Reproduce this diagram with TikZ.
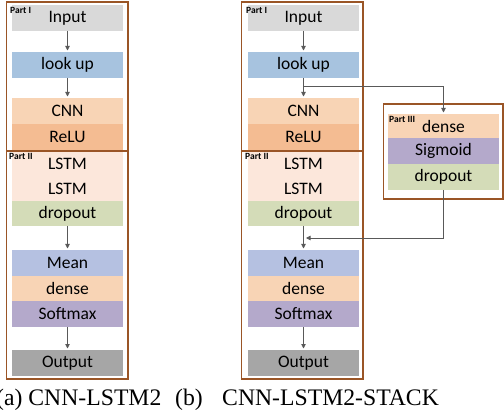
\documentclass[tikz,border=0pt]{standalone}
\usepackage{fontspec}
\setmainfont{Liberation Serif}
\newfontfamily\boxfont{Carlito}
\usetikzlibrary{arrows.meta,calc}

\definecolor{cInput}{HTML}{D9D9D9}
\definecolor{cLook}{HTML}{A7C3DF}
\definecolor{cCnn}{HTML}{F8D4B5}
\definecolor{cRelu}{HTML}{F4BC92}
\definecolor{cLstm}{HTML}{FCE7DB}
\definecolor{cDrop}{HTML}{D4DCB8}
\definecolor{cMean}{HTML}{B5C1E1}
\definecolor{cDense}{HTML}{F8D4B5}
\definecolor{cSoft}{HTML}{B4A9CB}
\definecolor{cOut}{HTML}{A6A6A6}
\definecolor{cFrame}{HTML}{9A5526}
\definecolor{cArrow}{HTML}{595959}

\tikzset{
  layer/.style={anchor=north west, inner sep=0pt, outer sep=0pt,
    minimum height=#1, minimum width=111pt,
    font=\boxfont\fontsize{17.5}{19}\selectfont},
  frame/.style={draw=cFrame, line width=1.8pt},
  partlabel/.style={anchor=base west, inner sep=0pt,
    font=\boxfont\bfseries\fontsize{9.5}{10}\selectfont},
  flow/.style={draw=cArrow, line width=0.8pt,
    -{Triangle[length=4.5pt,width=4.5pt]}, shorten >=1.5pt},
  caption/.style={anchor=base west, inner sep=0pt,
    font=\fontsize{23.7}{26}\selectfont}
}

\begin{document}
\begin{tikzpicture}[x=1pt,y=-1pt]
\useasboundingbox (0,0) rectangle (504,417);

% ---------- (a) CNN-LSTM2 ----------
\node[layer=26pt, fill=cInput] (aIn) at (12,5) {Input};
\node[layer=26pt, fill=cLook]  (aLook) at (12,52) {look up};
\node[layer=26pt, fill=cCnn]   (aCnn) at (12,98) {CNN};
\node[layer=26pt, fill=cRelu]  (aRelu) at (12,124) {ReLU};
\node[layer=25pt, fill=cLstm]  (aL1) at (12,151) {LSTM};
\node[layer=25pt, fill=cLstm]  (aL2) at (12,176) {LSTM};
\node[layer=25pt, fill=cDrop]  (aDrop) at (12,201) {dropout};
\node[layer=26pt, fill=cMean]  (aMean) at (12,250) {Mean};
\node[layer=25pt, fill=cDense] (aDense) at (12,276) {dense};
\node[layer=26pt, fill=cSoft]  (aSoft) at (12,301) {Softmax};
\node[layer=26pt, fill=cOut]   (aOut) at (12,350) {Output};

\draw[frame] (6.5,2) rectangle (128,151);
\draw[frame] (6.5,151) rectangle (128,379);
\node[partlabel] (aP1) at (10,13.5) {Part I};
\node[partlabel] (aP2) at (9,160) {Part II};

\draw[flow] (aIn) -- (aLook);
\draw[flow] (aLook) -- (aCnn);
\draw[flow] (aDrop) -- (aMean);
\draw[flow] (aSoft) -- (aOut);

% ---------- (b) CNN-LSTM2-STACK ----------
\node[layer=26pt, fill=cInput] (bIn) at (248,5) {Input};
\node[layer=26pt, fill=cLook]  (bLook) at (248,52) {look up};
\node[layer=26pt, fill=cCnn]   (bCnn) at (248,98) {CNN};
\node[layer=26pt, fill=cRelu]  (bRelu) at (248,124) {ReLU};
\node[layer=25pt, fill=cLstm]  (bL1) at (248,151) {LSTM};
\node[layer=25pt, fill=cLstm]  (bL2) at (248,176) {LSTM};
\node[layer=25pt, fill=cDrop]  (bDrop) at (248,201) {dropout};
\node[layer=26pt, fill=cMean]  (bMean) at (248,250) {Mean};
\node[layer=25pt, fill=cDense] (bDense) at (248,276) {dense};
\node[layer=26pt, fill=cSoft]  (bSoft) at (248,301) {Softmax};
\node[layer=26pt, fill=cOut]   (bOut) at (248,350) {Output};

\draw[frame] (241.5,2) rectangle (363,151);
\draw[frame] (241.5,151) rectangle (363,379);
\node[partlabel] (bP1) at (246,13.5) {Part I};
\node[partlabel] (bP2) at (245,160) {Part II};

% side branch (Part III)
\node[layer=24pt, fill=cDense] (cDense) at (388,114) {dense};
\node[layer=26pt, fill=cSoft]  (cSig) at (388,138) {Sigmoid};
\node[layer=26pt, fill=cDrop]  (cDrop) at (388,164) {dropout};
\draw[frame] (383.5,104) rectangle (503,199);
\node[partlabel] (cP3) at (389,123) {Part III};

\draw[flow] (bIn) -- (bLook);
\draw[flow] (bLook) -- (bCnn);
\draw[flow] (bDrop) -- (bMean);
\draw[flow] (bSoft) -- (bOut);

\coordinate (split) at ($(bLook.south)+(0,8.7)$);
\draw[flow] (split) -| (cDense.north);
\coordinate (merge) at ($(bDrop.south)+(0,12)$);
\draw[flow, shorten >=2.5pt] (cDrop.south) |- (merge);

% ---------- captions ----------
\node[caption] (capA) at (-4,405) {(a) CNN-LSTM2};
\node[caption] (capB) at (175,405) {(b)};
\node[caption] (capC) at (222,405) {CNN-LSTM2-STACK};
\end{tikzpicture}
\end{document}
